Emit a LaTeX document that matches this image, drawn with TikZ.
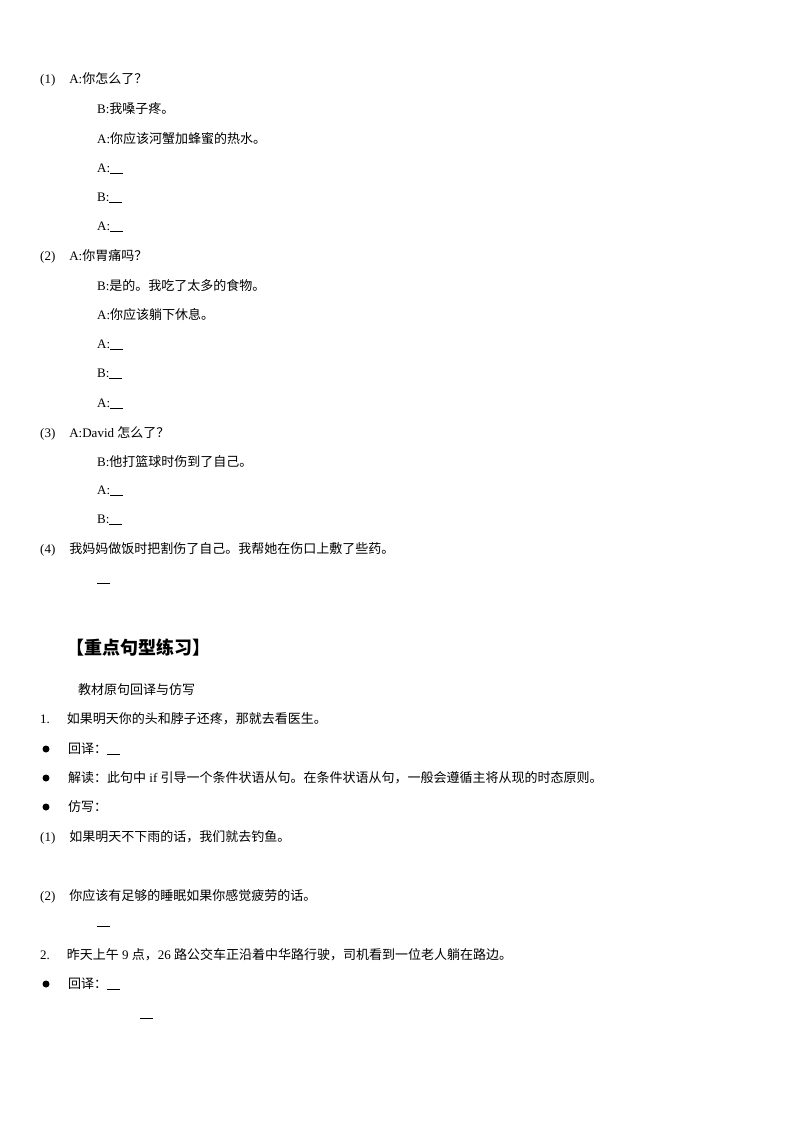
\documentclass[tikz,border=0pt]{standalone}
\usepackage{fontspec}
\setmainfont{Liberation Serif}
\newfontfamily\cjk{Noto Sans CJK SC}
\newcommand{\bl}{\rule[-1pt]{13pt}{0.8pt}}
\begin{document}
\begin{tikzpicture}[x=1pt,y=-1pt,t/.style={anchor=west,inner sep=0pt,font=\fontsize{13}{15}\selectfont},b/.style={fill=black,circle,inner sep=0pt,minimum size=7pt}]
\useasboundingbox (0,0) rectangle (800,1132);
\node[t] (n1) at (40,79) {(1)\hspace{14pt}A:{\cjk 你怎么了？}};
\node[t] (n2) at (97,109) {B:{\cjk 我嗓子疼。}};
\node[t] (n3) at (97,139) {A:{\cjk 你应该河蟹加蜂蜜的热水。}};
\node[t] (n4) at (97,169) {A:\bl};
\node[t] (n5) at (97,198) {B:\bl};
\node[t] (n6) at (97,227) {A:\bl};
\node[t] (n7) at (40,256) {(2)\hspace{14pt}A:{\cjk 你胃痛吗？}};
\node[t] (n8) at (97,286) {B:{\cjk 是的。我吃了太多的食物。}};
\node[t] (n9) at (97,315) {A:{\cjk 你应该躺下休息。}};
\node[t] (n10) at (97,345) {A:\bl};
\node[t] (n11) at (97,374) {B:\bl};
\node[t] (n12) at (97,404) {A:\bl};
\node[t] (n13) at (40,433) {(3)\hspace{14pt}A:David {\cjk 怎么了？}};
\node[t] (n14) at (97,462) {B:{\cjk 他打篮球时伤到了自己。}};
\node[t] (n15) at (97,491) {A:\bl};
\node[t] (n16) at (97,520) {B:\bl};
\node[t] (n17) at (40,549) {(4)\hspace{14pt}{\cjk 我妈妈做饭时把割伤了自己。我帮她在伤口上敷了些药。}};
\node[t] (n18) at (97,583) {\bl};
\node[anchor=west,inner sep=0pt,font=\fontsize{18}{20}\selectfont\cjk\bfseries] (h) at (66,648) {【重点句型练习】};
\node[t] (n19) at (78,690) {\cjk 教材原句回译与仿写};
\node[t] (n20) at (40,719) {1.\hspace{17pt}{\cjk 如果明天你的头和脖子还疼，那就去看医生。}};
\node[b] (d1) at (46,749) {};
\node[t] (n21) at (68,749) {{\cjk 回译：}\bl};
\node[b] (d2) at (46,778) {};
\node[t] (n22) at (68,778) {{\cjk 解读：此句中} if {\cjk 引导一个条件状语从句。在条件状语从句，一般会遵循主将从现的时态原则。}};
\node[b] (d3) at (46,807) {};
\node[t] (n23) at (68,807) {\cjk 仿写：};
\node[t] (n24) at (40,837) {(1)\hspace{14pt}{\cjk 如果明天不下雨的话，我们就去钓鱼。}};
\node[t] (n25) at (40,896) {(2)\hspace{14pt}{\cjk 你应该有足够的睡眠如果你感觉疲劳的话。}};
\node[t] (n26) at (97,926) {\bl};
\node[t] (n27) at (40,955) {2.\hspace{17pt}{\cjk 昨天上午} 9 {\cjk 点，}26 {\cjk 路公交车正沿着中华路行驶，司机看到一位老人躺在路边。}};
\node[b] (d4) at (46,984) {};
\node[t] (n28) at (68,984) {{\cjk 回译：}\bl};
\node[t] (n29) at (140,1018) {\bl};
\end{tikzpicture}
\end{document}
